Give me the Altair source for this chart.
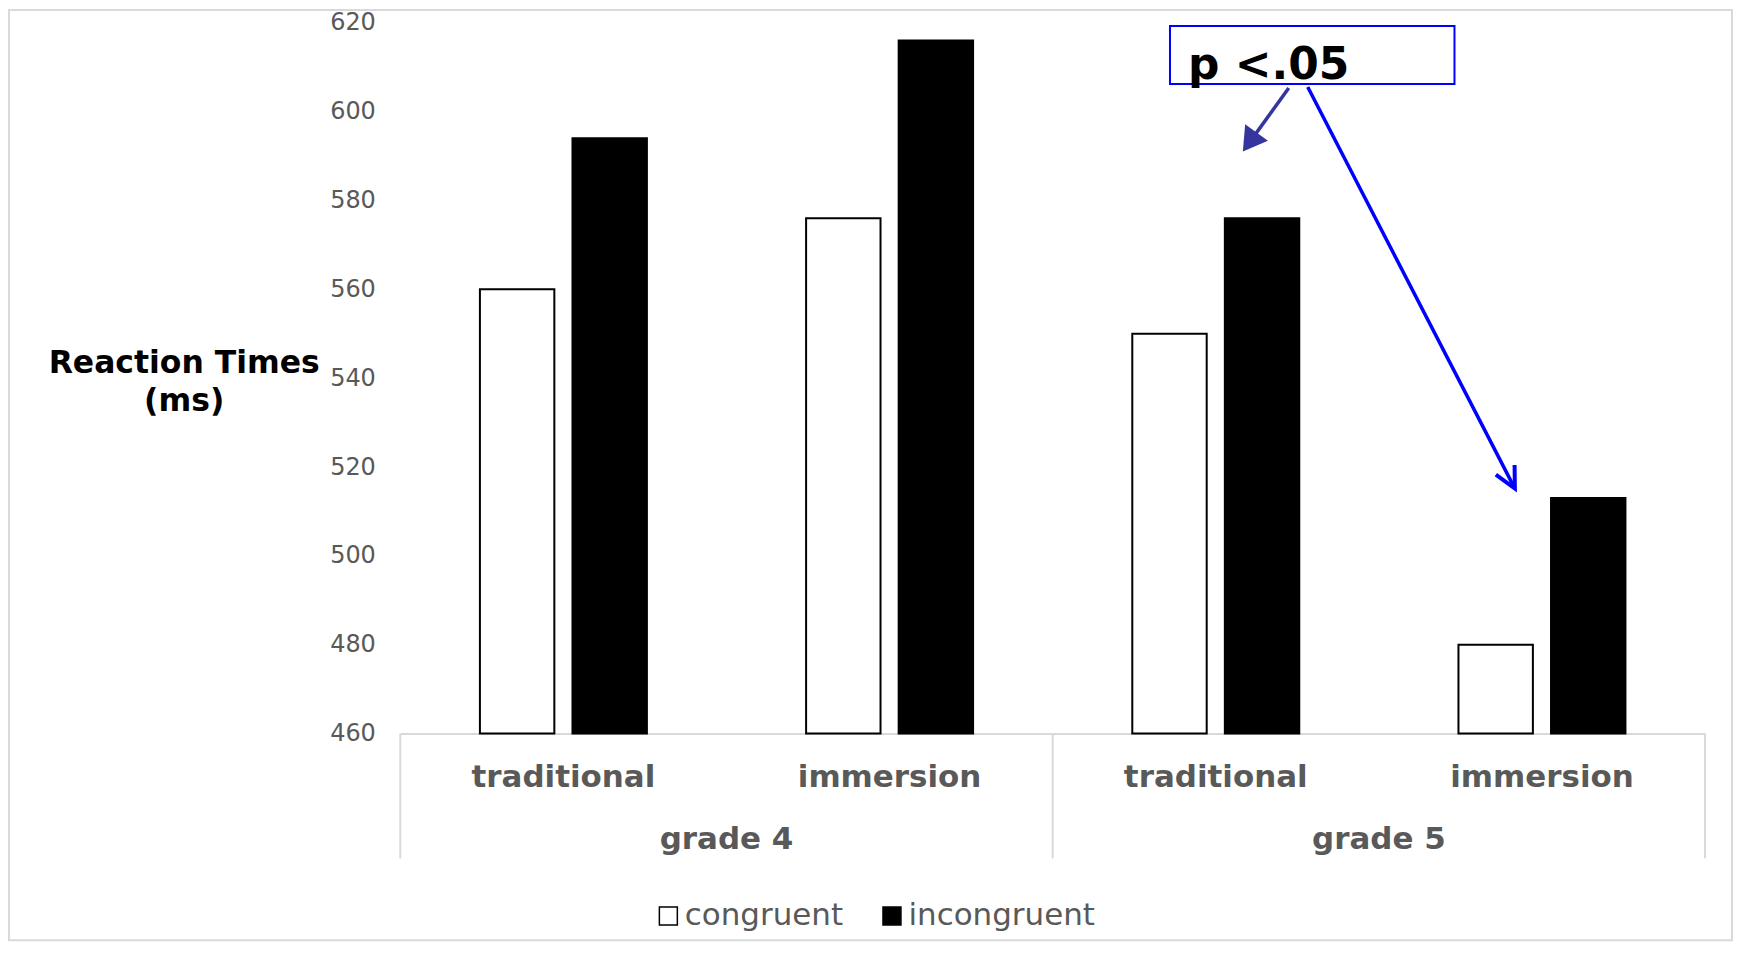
import altair as alt
import pandas as pd

# ---- data ----
grades = ["grade 4", "grade 4", "grade 5", "grade 5"]
methods = ["traditional", "immersion", "traditional", "immersion"]
congruent = [560, 576, 550, 480]
incongruent = [594, 616, 576, 513]
conditions = ["congruent", "incongruent"]
y_ticks = [460, 480, 500, 520, 540, 560, 580, 600, 620]
y_title = ["Reaction Times", "(ms)"]
annotation_text = "p <.05"

# ---- tables built from the arrays ----
keys = [f"{g}|{m}" for g, m in zip(grades, methods)]
rows = []
for k, g, m, c, i in zip(keys, grades, methods, congruent, incongruent):
    rows.append({"key": k, "grade": g, "method": m, "condition": conditions[0], "rt": c})
    rows.append({"key": k, "grade": g, "method": m, "condition": conditions[1], "rt": i})
bars_df = pd.DataFrame(rows)

grade_names = list(dict.fromkeys(grades))
grade_keys = {g: [k for k, gg in zip(keys, grades) if gg == g] for g in grade_names}
grade_df = pd.DataFrame({"grade": grade_names,
                         "key": [grade_keys[g][len(grade_keys[g]) // 2] for g in grade_names]})
div_start_df = pd.DataFrame({"key": [grade_keys[g][0] for g in grade_names]})
div_end_df = pd.DataFrame({"key": [keys[-1]]})
one = pd.DataFrame({"a": [0]})

W, H = 1307, 712
FONT = "DejaVu Sans"
GREY = "#595959"
LIGHT = "#d9d9d9"

xscale = alt.Scale(domain=keys, paddingInner=0, paddingOuter=0)
xaxis = alt.Axis(title=None, labelExpr="split(datum.value, '|')[1]",
                 labelFont=FONT, labelFontSize=31, labelFontWeight="bold",
                 labelColor=GREY, labelAngle=0, labelLimit=500, ticks=False, labelPadding=29,
                 domainColor=LIGHT, domainWidth=2, grid=False)

bars = alt.Chart(bars_df).mark_bar(stroke="black", strokeWidth=2).encode(
    x=alt.X("key:N", scale=xscale, sort=keys, axis=xaxis),
    xOffset=alt.XOffset("condition:N",
                        scale=alt.Scale(domain=conditions, paddingInner=0.196, paddingOuter=0.86)),
    y=alt.Y("rt:Q", scale=alt.Scale(domain=[460, 620], nice=False, zero=False),
            axis=alt.Axis(values=y_ticks, grid=False, domain=False, ticks=False,
                          labelFont=FONT, labelFontSize=24, labelColor=GREY, labelPadding=25,
                          title=y_title, titleAngle=0, titleAlign="center",
                          titleBaseline="alphabetic", titleX=-217, titleY=350,
                          titleFont=FONT, titleFontSize=31.5, titleFontWeight="bold",
                          titleColor="black", titleLineHeight=38)),
    y2=alt.datum(460),
    fill=alt.Fill("condition:N", scale=alt.Scale(domain=conditions, range=["white", "black"]),
                  legend=alt.Legend(title=None, orient="none", legendX=253, legendY=879,
                                    direction="horizontal", symbolType="square", symbolSize=324,
                                    symbolStrokeColor="black", symbolStrokeWidth=1.5,
                                    labelFont=FONT, labelFontSize=31, labelColor=GREY,
                                    labelLimit=400, labelOffset=1, columnPadding=33, padding=0)),
)

dividers_a = alt.Chart(div_start_df).mark_rule(color=LIGHT, strokeWidth=2).encode(
    x=alt.X("key:N", scale=xscale, sort=keys, bandPosition=0, axis=xaxis),
    y=alt.value(H), y2=alt.value(H + 125),
)
dividers_b = alt.Chart(div_end_df).mark_rule(color=LIGHT, strokeWidth=2).encode(
    x=alt.X("key:N", scale=xscale, sort=keys, bandPosition=1, axis=xaxis),
    y=alt.value(H), y2=alt.value(H + 125),
)
grade_text = alt.Chart(grade_df).mark_text(
    font=FONT, fontSize=31, fontWeight="bold", color=GREY, align="center", baseline="alphabetic"
).encode(
    x=alt.X("key:N", scale=xscale, sort=keys, bandPosition=0, axis=xaxis),
    y=alt.value(H + 116),
    text="grade:N",
)

frame = alt.Chart(one).mark_rect(fillOpacity=0, stroke=LIGHT, strokeWidth=2).encode(
    x=alt.value(-392), x2=alt.value(1334), y=alt.value(-12.7), y2=alt.value(919),
)

# annotation: box, label and two arrows
box = alt.Chart(one).mark_rect(fill="white", stroke="#0000ff", strokeWidth=2).encode(
    x=alt.value(771), x2=alt.value(1056), y=alt.value(3.3), y2=alt.value(61.3),
)
label = alt.Chart(one).mark_text(
    font=FONT, fontSize=44, fontWeight="bold", color="black", align="left", baseline="alphabetic"
).encode(x=alt.value(789), y=alt.value(56.6), text=alt.value(annotation_text))

arrow1_line = alt.Chart(one).mark_rule(color="#3535a0", strokeWidth=3.5).encode(
    x=alt.value(890), y=alt.value(65.3), x2=alt.value(851), y2=alt.value(119.3),
)
arrow1_head = alt.Chart(one).mark_point(
    shape="M -0.6 1 L 0 0 L 0.6 1 Z", filled=True, fill="#3535a0", fillOpacity=1,
    strokeWidth=0, size=2200, angle=215.8,
).encode(x=alt.value(844), y=alt.value(129))

arrow2_line = alt.Chart(one).mark_rule(color="#0000ff", strokeWidth=3.5).encode(
    x=alt.value(909), y=alt.value(64.3), x2=alt.value(1116.5), y2=alt.value(466.6),
)
arrow2_head = alt.Chart(one).mark_point(
    shape="M -0.45 0.9 L 0 0 L 0.45 0.9", filled=False, stroke="#0000ff", strokeWidth=4,
    opacity=1, size=2200, angle=152.7,
).encode(x=alt.value(1116.5), y=alt.value(466.6))

chart = alt.layer(
    frame, dividers_a, dividers_b, bars, grade_text,
    arrow1_line, arrow1_head, arrow2_line, arrow2_head, box, label,
).properties(
    width=W, height=H,
    autosize=alt.AutoSizeParams(type="none"),
    padding={"left": 393, "top": 14, "right": 28, "bottom": 208},
    background="white",
).configure_view(strokeWidth=0)

chart.save("out.html", embed_options={"renderer": "svg", "actions": False})
